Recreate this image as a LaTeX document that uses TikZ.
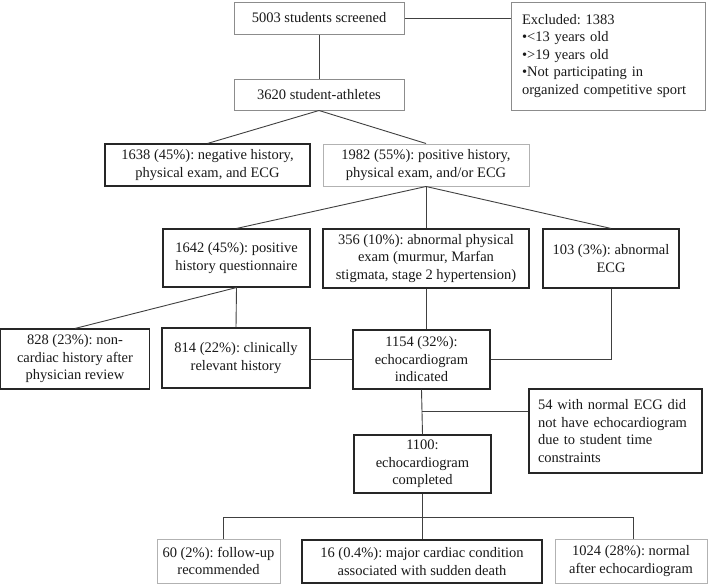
\documentclass[tikz,border=0pt]{standalone}
\usepackage{fontspec}
\setmainfont{Liberation Serif}
\frenchspacing
\begin{document}
\begin{tikzpicture}[x=1pt,y=-1pt,
  every node/.style={font=\fontsize{14.5}{17.5}\selectfont\frenchspacing, text=black!90},
  sz/.style 2 args={minimum width=#1pt, minimum height=#2pt},
  bx/.style={draw=black!85, line width=1.1pt, inner sep=0pt, align=center},
  gbx/.style={draw=black!45, line width=1pt, inner sep=0pt, align=center},
  lbx/.style={draw=black!30, line width=1pt, inner sep=0pt, align=center},
  conn/.style={draw=black!75, line width=0.9pt}]
\fill[white] (0,0) rectangle (709,584);
\useasboundingbox (0,0) rectangle (709,584);

\node[gbx, sz={170}{32}] (A) at (319,18) {5003 students screened};
\node[gbx, sz={194}{108}, align=left, text width=172pt, inner xsep=11pt] (X) at (608,56)
  {Excluded: 1383\\•<13 years old\\•>19 years old\\•Not participating in\\organized competitive sport};
\node[gbx, sz={170}{31}] (B) at (319,94.5) {3620 student-athletes};
\node[bx, sz={205}{42}] (C1) at (207.5,165) {1638 (45\%): negative history,\\physical exam, and ECG};
\node[lbx, sz={206}{42}] (C2) at (426,165) {1982 (55\%): positive history,\\physical exam, and/or ECG};
\node[bx, sz={147}{58}] (D1) at (236.5,258) {1642 (45\%): positive\\history questionnaire};
\node[bx, sz={206}{59}] (D2) at (426,258.5) {356 (10\%): abnormal physical\\exam (murmur, Marfan\\stigmata, stage 2 hypertension)};
\node[bx, sz={136}{59}] (D3) at (611,258.5) {103 (3\%): abnormal\\ECG};
\node[bx, sz={149}{60}] (E1) at (75,359) {828 (23\%): non-\\cardiac history after\\physician review};
\node[bx, sz={148}{60}] (E2) at (236,358) {814 (22\%): clinically\\relevant history};
\node[bx, sz={137}{59}] (E3) at (421.5,359.5) {1154 (32\%):\\echocardiogram\\indicated};
\node[bx, sz={173}{84}, align=left, text width=155pt, inner xsep=9pt] (F) at (615.5,431)
  {54 with normal ECG did\\not have echocardiogram\\due to student time\\constraints};
\node[bx, sz={137}{58}] (G) at (422.5,464) {1100:\\echocardiogram\\completed};
\node[lbx, sz={123}{44}] (H1) at (218.5,561) {60 (2\%): follow-up\\recommended};
\node[bx, sz={240}{43}] (H2) at (422,561.5) {16 (0.4\%): major cardiac condition\\associated with sudden death};
\node[lbx, sz={152}{44}] (H3) at (631,561) {1024 (28\%): normal\\after echocardiogram};

\draw[conn] (A.east) -- (X.west |- A.east);
\draw[conn] (A.south) -- (B.north);
\draw[conn] (C1.north) -- (B.south) -- (C2.north);
\draw[conn] (C2.south) -- (D1.north);
\draw[conn] (C2.south) -- (D2.north);
\draw[conn] (C2.south) -- (D3.north);
\draw[conn] (E1.north) -- (D1.south) -- (E2.north);
\draw[conn] (D2.south) -- (D2.south |- E3.north);
\draw[conn] (E2.east |- E3.west) -- (E3.west);
\draw[conn] (D3.south) |- (E3.east);
\coordinate (br) at (421.5,411);
\draw[conn] (E3.south) -- (G.north);
\draw[conn] (br) -- (br -| F.west);
\coordinate (busL) at (223,517);
\coordinate (busR) at (633,517);
\draw[conn] (G.south) -- (G.south |- busL);
\draw[conn] (busL |- H1.north) -- (busL) -- (busR) -- (busR |- H3.north);
\draw[conn] (G.south |- busL) -- (G.south |- H2.north);
\end{tikzpicture}
\end{document}
